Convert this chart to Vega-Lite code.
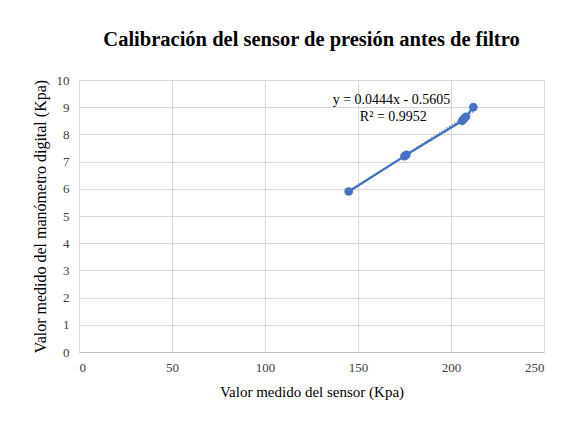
{
  "$schema": "https://vega.github.io/schema/vega-lite/v6.json",
  "width": 465,
  "height": 272,
  "autosize": {"type": "none"},
  "padding": {"left": 79, "top": 80, "right": 30, "bottom": 73},
  "background": "white",
  "title": {
    "text": "Calibración  del sensor de presión  antes de filtro",
    "font": "Liberation Serif",
    "fontSize": 20.5,
    "fontWeight": "bold",
    "color": "#000000",
    "anchor": "middle",
    "offset": 24
  },
  "config": {
    "view": {"stroke": null},
    "axis": {
      "labelFont": "Liberation Serif",
      "labelFontSize": 13,
      "labelColor": "#404040",
      "titleFont": "Liberation Serif",
      "titleFontSize": 15,
      "titleFontWeight": "normal",
      "titleColor": "#000000",
      "gridColor": "#d9d9d9",
      "gridWidth": 1,
      "ticks": false
    }
  },
  "datasets": {
    "pts": [
      {"x": 145, "y": 5.9},
      {"x": 175, "y": 7.2},
      {"x": 176, "y": 7.25},
      {"x": 206, "y": 8.5},
      {"x": 207, "y": 8.58},
      {"x": 208, "y": 8.65},
      {"x": 212, "y": 9.0}
    ],
    "eq": [
      {"x": 168, "y": 9.26, "t": "y = 0.0444x - 0.5605"},
      {"x": 169, "y": 8.64, "t": "R² = 0.9952"}
    ]
  },
  "encoding": {
    "x": {"field": "x", "type": "quantitative", "scale": {"domain": [0, 250]},
      "axis": {"title": "Valor medido del sensor (Kpa)", "values": [0, 50, 100, 150, 200, 250], "labelPadding": 9, "titlePadding": 10, "domainColor": "#bfbfbf"}},
    "y": {"field": "y", "type": "quantitative", "scale": {"domain": [0, 10]},
      "axis": {"title": "Valor medido del manómetro digital (Kpa)", "values": [0,1,2,3,4,5,6,7,8,9,10], "labelPadding": 10, "titlePadding": 8, "domain": false, "titleFontSize": 16}}
  },
  "layer": [
    {
      "data": {"name": "pts"},
      "mark": {"type": "line", "color": "#4472C4", "strokeWidth": 2.25}
    },
    {
      "data": {"name": "pts"},
      "transform": [{"regression": "y", "on": "x"}],
      "mark": {"type": "line", "color": "#4472C4", "strokeWidth": 2, "strokeDash": [1, 2], "opacity": 0.9}
    },
    {
      "data": {"name": "pts"},
      "mark": {"type": "circle", "color": "#4472C4", "size": 75, "opacity": 1}
    },
    {
      "data": {"name": "eq"},
      "mark": {"type": "text", "font": "Liberation Serif", "fontSize": 14, "color": "#000000", "align": "center", "baseline": "middle"},
      "encoding": {
        "text": {"field": "t"}
      }
    }
  ]
}
